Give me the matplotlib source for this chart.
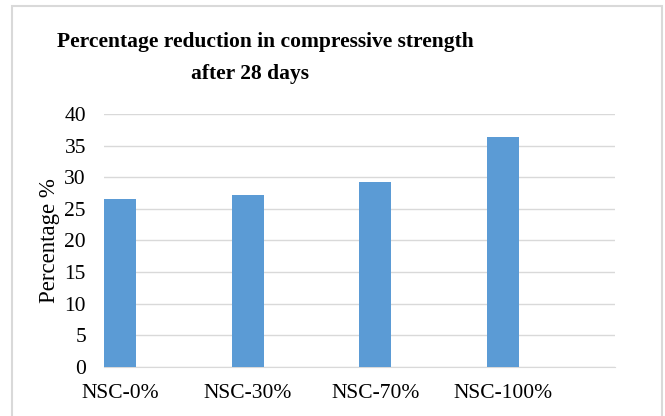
import matplotlib.pyplot as plt
from matplotlib.patches import Rectangle

categories = ["NSC-0%", "NSC-30%", "NSC-70%", "NSC-100%"]
reduction = [26.5, 27.2, 29.2, 36.4]
yticks = [0, 5, 10, 15, 20, 25, 30, 35, 40]

plt.rcParams["font.family"] = ["Liberation Serif", "DejaVu Serif"]

fig = plt.figure(figsize=(6.65, 4.16), dpi=100)
ax = fig.add_axes([0.1564, 0.1178, 0.7684, 0.6082])

x = list(range(len(categories)))
ax.bar(x, reduction, width=0.25, color="#5b9bd5", zorder=3)

ax.set_xlim(-0.125, 3.875)
ax.set_ylim(0, 40)
ax.set_yticks(yticks)
ax.set_xticks(x)
ax.set_xticklabels(categories)
ax.tick_params(axis="both", length=0, labelsize=15.5, colors="#000000")
ax.tick_params(axis="x", pad=12)
ax.tick_params(axis="y", pad=13)
ax.yaxis.grid(True, color="#d9d9d9", linewidth=1, zorder=0)
for side in ["left", "right", "top"]:
    ax.spines[side].set_visible(False)
ax.spines["bottom"].set_color("#d9d9d9")
ax.set_ylabel("Percentage %", fontsize=16.5, labelpad=3)

fig.text(0.399, 0.900, "Percentage reduction in compressive strength",
         ha="center", va="center", fontsize=15.5, fontweight="bold")
fig.text(0.376, 0.823, "after 28 days",
         ha="center", va="center", fontsize=15.5, fontweight="bold")

# chart border
fig.patches.append(Rectangle((12 / 665, -0.05), 650 / 665, 1 - 6 / 416 + 0.05,
                             transform=fig.transFigure, fill=False,
                             edgecolor="#d9d9d9", linewidth=1.5))

fig.savefig("out.png", dpi=100)
